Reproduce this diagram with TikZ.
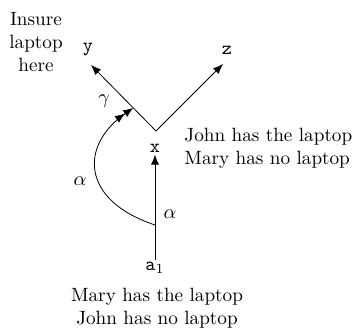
\documentclass[tikz,border=0pt]{standalone}
\usetikzlibrary{arrows.meta,calc}
\begin{document}
\begin{tikzpicture}[x=0.5pt,y=-0.5pt,
  font=\fontsize{9.6}{11.6}\selectfont,
  lbl/.style={inner sep=1pt,font=\fontsize{9.6}{11.6}\selectfont\ttfamily},
  txt/.style={inner sep=0pt},
  tip/.style={-{Latex[length=5pt,width=4pt]}},
  dtip/.style={-{Latex[length=5pt,width=4pt]Latex[length=5pt,width=4pt]}},
  line width=0.4pt]
\useasboundingbox (0,0) rectangle (355,330);
% labels
\node[lbl] (y) at (88,50) {y};
\node[lbl] (z) at (227,50) {z};
\node[lbl] (x) at (155,148) {x};
\node[inner sep=1pt] (a1) at (155,268) {\texttt{a}$_1$};
\coordinate (v) at (156,131);
\coordinate (yt) at (91,65);
\coordinate (zt) at (223,64);
\coordinate (s) at (155,225);
\coordinate (m) at ($(v)!0.35!(yt)$);
% texts
\node[txt,align=center] (ins) at (36,42) {Insure\\laptop\\here};
\node[txt,align=left,anchor=west] (john) at (184,148) {John has the laptop\\Mary has no laptop};
\node[txt,align=center] (mary) at (157,308) {Mary has the laptop\\John has no laptop};
% connectors
\draw[tip] (v) -- (yt);
\draw[tip] (v) -- (zt);
\draw[tip] (a1.north) -- (x.south);
\draw[dtip] (s) .. controls (80,200) and (80,145) .. (m);
% greek labels
\node (g) at (104,101) {$\gamma$};
\node (al) at (80,181) {$\alpha$};
\node (ar) at (170,214) {$\alpha$};
\end{tikzpicture}
\end{document}
